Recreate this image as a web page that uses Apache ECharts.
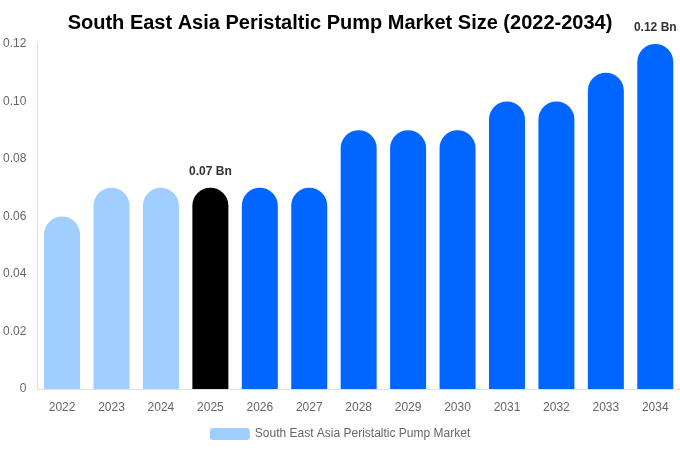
<!DOCTYPE html>
<html><head><meta charset="utf-8">
<script src="https://cdn.jsdelivr.net/npm/echarts@6/dist/echarts.min.js"></script>
<style>html,body{margin:0;padding:0;background:#fff}#c{width:680px;height:450px}</style>
</head><body><div id="c"></div>
<script>
const categories = ['2022','2023','2024','2025','2026','2027','2028','2029','2030','2031','2032','2033','2034'];
const values = [0.06,0.07,0.07,0.07,0.07,0.07,0.09,0.09,0.09,0.10,0.10,0.11,0.12];
const barColors = ['#a0cfff','#a0cfff','#a0cfff','#000000','#0066ff','#0066ff','#0066ff','#0066ff','#0066ff','#0066ff','#0066ff','#0066ff','#0066ff'];
const labelledIndices = [3, 12];
const yTicks = [0, 0.02, 0.04, 0.06, 0.08, 0.10, 0.12];
const seriesName = 'South East Asia Peristaltic Pump Market';

const chart = echarts.init(document.getElementById('c'));
chart.setOption({
  animation: false,
  title: {
    text: 'South East Asia Peristaltic Pump Market Size (2022-2034)',
    left: 'center', top: 8,
    textStyle: { fontFamily: 'Liberation Sans', fontSize: 20, fontWeight: 'bold', color: '#000' }
  },
  legend: {
    bottom: 5, left: 'center',
    itemWidth: 40, itemHeight: 12,
    textStyle: { fontFamily: 'Liberation Sans', fontSize: 12, color: '#666' },
    data: [{ name: seriesName, itemStyle: { color: '#a0cfff' } }]
  },
  grid: { left: 37, right: 0, top: 44, bottom: 61, containLabel: false },
  xAxis: {
    type: 'category', data: categories,
    axisLine: { lineStyle: { color: '#e0e0e0' } },
    axisTick: { show: false },
    axisLabel: { fontFamily: 'Liberation Sans', fontSize: 12, color: '#666', margin: 13 }
  },
  yAxis: {
    type: 'value', min: 0, max: 0.12, interval: 0.02,
    axisLine: { show: true, lineStyle: { color: '#e0e0e0' } },
    axisTick: { show: false },
    splitLine: { show: false },
    axisLabel: {
      fontFamily: 'Liberation Sans', fontSize: 12, color: '#666', margin: 11,
      formatter: v => v === 0 ? '0' : v.toFixed(2)
    }
  },
  series: [{
    name: seriesName, type: 'bar',
    barWidth: 36,
    data: values.map((v, i) => ({
      value: v,
      itemStyle: { color: barColors[i], borderRadius: [18, 18, 0, 0] },
      label: {
        show: labelledIndices.includes(i), position: 'top', distance: 10,
        formatter: p => p.value.toFixed(2) + ' Bn',
        fontFamily: 'Liberation Sans', fontSize: 12, fontWeight: 'bold', color: '#333'
      }
    }))
  }]
});
</script></body></html>
